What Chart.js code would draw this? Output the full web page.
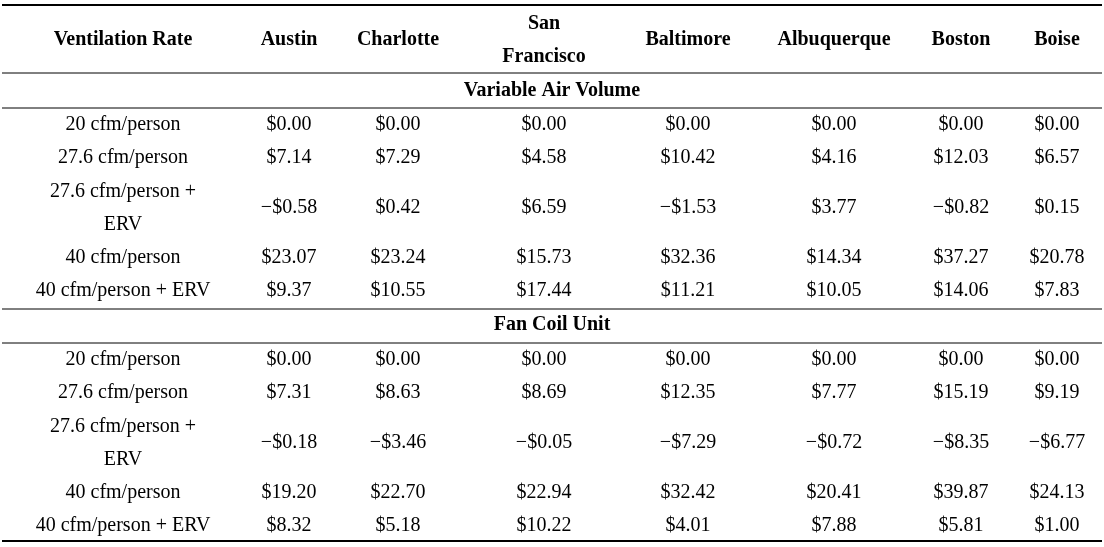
<!DOCTYPE html>
<html><head><meta charset="utf-8">
<script src="https://cdn.jsdelivr.net/npm/chart.js"></script>
<style>html,body{margin:0;padding:0;background:#fff}#w{width:1104px;height:547px}</style>
</head><body><div id="w"><canvas id="c"></canvas></div>
<script>
const columns = ["Ventilation Rate","Austin","Charlotte","San\nFrancisco","Baltimore","Albuquerque","Boston","Boise"];
const sections = ["Variable Air Volume","Fan Coil Unit"];
const rowLabels = ["20 cfm/person","27.6 cfm/person","27.6 cfm/person +\nERV","40 cfm/person","40 cfm/person + ERV"];
const vavValues = [
  ["$0.00","$0.00","$0.00","$0.00","$0.00","$0.00","$0.00"],
  ["$7.14","$7.29","$4.58","$10.42","$4.16","$12.03","$6.57"],
  ["\u2212$0.58","$0.42","$6.59","\u2212$1.53","$3.77","\u2212$0.82","$0.15"],
  ["$23.07","$23.24","$15.73","$32.36","$14.34","$37.27","$20.78"],
  ["$9.37","$10.55","$17.44","$11.21","$10.05","$14.06","$7.83"]
];
const fcuValues = [
  ["$0.00","$0.00","$0.00","$0.00","$0.00","$0.00","$0.00"],
  ["$7.31","$8.63","$8.69","$12.35","$7.77","$15.19","$9.19"],
  ["\u2212$0.18","\u2212$3.46","\u2212$0.05","\u2212$7.29","\u2212$0.72","\u2212$8.35","\u2212$6.77"],
  ["$19.20","$22.70","$22.94","$32.42","$20.41","$39.87","$24.13"],
  ["$8.32","$5.18","$10.22","$4.01","$7.88","$5.81","$1.00"]
];

// layout (pixel-space positions)
const colX = [123,289,398,544,688,834,961,1057];
const headerY = 40, secY = [91,325];
const rowY = [[125,158,208,258,291],[360,393,443,493,526]];
const rules = [[5,2],[73,1],[108,1],[309,1],[343,1],[541,2]];

const datasets = [];
const cells = [];
columns.forEach((c,i)=>{cells.push({x:colX[i],y:headerY,t:c,b:true});});
sections.forEach((s,si)=>{
  cells.push({x:552,y:secY[si],t:s,b:true});
  const vals = si===0?vavValues:fcuValues;
  rowLabels.forEach((r,ri)=>{
    cells.push({x:colX[0],y:rowY[si][ri],t:r,b:false});
    vals[ri].forEach((v,ci)=>cells.push({x:colX[ci+1],y:rowY[si][ri],t:v,b:false}));
  });
});
datasets.push({data:cells.map(c=>({x:c.x,y:c.y})),pointRadius:0,showLine:false});

const tablePlugin = {
  id:'table',
  afterDatasetsDraw(chart){
    const ctx=chart.ctx, xs=chart.scales.x, ys=chart.scales.y;
    ctx.save();
    ctx.strokeStyle='#000';
    rules.forEach(([y,w])=>{
      ctx.lineWidth=w; const py=ys.getPixelForValue(y);
      ctx.beginPath();ctx.moveTo(xs.getPixelForValue(2),py);ctx.lineTo(xs.getPixelForValue(1102),py);ctx.stroke();
    });
    ctx.fillStyle='#000';ctx.textAlign='center';ctx.textBaseline='middle';
    const meta=chart.getDatasetMeta(0);
    meta.data.forEach((p,i)=>{
      const c=cells[i];
      ctx.font=(c.b?'bold ':'')+'20px "Liberation Serif", "DejaVu Serif", serif';
      const lines=c.t.split('\n');
      lines.forEach((l,li)=>ctx.fillText(l,p.x,p.y+(li-(lines.length-1)/2)*33));
    });
    ctx.restore();
  }
};

new Chart(document.getElementById('c'),{
  type:'scatter',
  data:{datasets},
  options:{
    responsive:true,maintainAspectRatio:false,animation:false,
    layout:{padding:0},
    plugins:{legend:{display:false},tooltip:{enabled:false}},
    scales:{
      x:{type:'linear',min:0,max:1104,display:false},
      y:{type:'linear',min:0,max:547,reverse:true,display:false}
    }
  },
  plugins:[tablePlugin]
});
</script></body></html>
